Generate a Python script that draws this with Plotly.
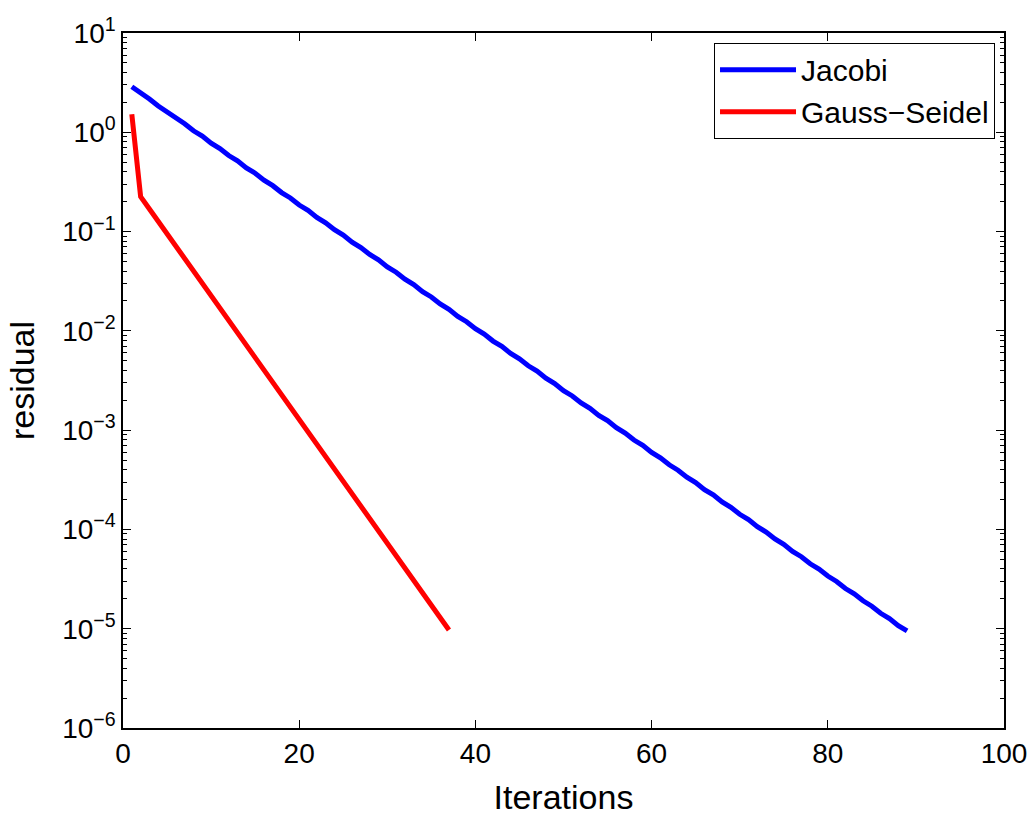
import plotly.graph_objects as go

jacobi_iter = list(range(1, 90))
jacobi_res = [
    2.88, 2.45, 2.16, 1.84, 1.62, 1.38, 1.22, 1.035, 0.914, 0.777,
    0.686, 0.583, 0.515, 0.438, 0.387, 0.329, 0.290, 0.247, 0.218, 0.185,
    0.1635, 0.139, 0.1227, 0.1043, 0.0921, 0.0783, 0.0691, 0.0588, 0.0519, 0.0441,
    0.03895, 0.0331, 0.02924, 0.02485, 0.02195, 0.01865, 0.01647, 0.0140, 0.01236, 0.01051,
    9.28e-3, 7.89e-3, 6.97e-3, 5.92e-3, 5.23e-3, 4.45e-3, 3.93e-3, 3.34e-3, 2.95e-3, 2.50e-3,
    2.21e-3, 1.88e-3, 1.66e-3, 1.41e-3, 1.246e-3, 1.059e-3, 9.35e-4, 7.95e-4, 7.02e-4, 5.97e-4,
    5.27e-4, 4.48e-4, 3.95e-4, 3.36e-4, 2.97e-4, 2.52e-4, 2.23e-4, 1.89e-4, 1.67e-4, 1.42e-4,
    1.255e-4, 1.067e-4, 9.42e-5, 8.01e-5, 7.07e-5, 6.01e-5, 5.31e-5, 4.51e-5, 3.98e-5, 3.39e-5,
    2.99e-5, 2.54e-5, 2.245e-5, 1.91e-5, 1.685e-5, 1.43e-5, 1.265e-5, 1.075e-5, 9.49e-6,
]

gs_iter = list(range(1, 38))
gs_res = [
    1.52, 0.225, 0.1688, 0.1267, 0.0951, 0.0714, 0.0536, 0.0402, 0.03015, 0.02263,
    0.01698, 0.01274, 9.56e-3, 7.18e-3, 5.38e-3, 4.04e-3, 3.03e-3, 2.28e-3, 1.71e-3, 1.28e-3,
    9.61e-4, 7.22e-4, 5.41e-4, 4.06e-4, 3.05e-4, 2.29e-4, 1.72e-4, 1.29e-4, 9.67e-5, 7.25e-5,
    5.44e-5, 4.09e-5, 3.07e-5, 2.30e-5, 1.73e-5, 1.30e-5, 9.72e-6,
]

x_ticks = [0, 20, 40, 60, 80, 100]
y_exps = [-6, -5, -4, -3, -2, -1, 0, 1]

FONT = "Arial, 'Liberation Sans', sans-serif"

fig = go.Figure()
fig.add_trace(go.Scatter(x=jacobi_iter, y=jacobi_res, mode="lines", name="Jacobi",
                         line=dict(color="#0000ff", width=5)))
fig.add_trace(go.Scatter(x=gs_iter, y=gs_res, mode="lines", name="Gauss\u2212Seidel",
                         line=dict(color="#ff0000", width=5)))

y_tickvals = [10.0 ** e for e in y_exps]
y_ticktext = ["10<sup>%s</sup>" % (str(e).replace("-", "\u2212")) for e in y_exps]
minor_vals = [m * 10.0 ** e for e in y_exps[:-1] for m in range(2, 10)]

fig.update_layout(
    width=1035, height=816,
    paper_bgcolor="white", plot_bgcolor="white",
    margin=dict(l=123, r=31, t=33, b=88, autoexpand=False),
    font=dict(family=FONT, size=28, color="black"),
    showlegend=True,
    legend=dict(x=0.9898, y=0.986, xanchor="right", yanchor="top",
                bgcolor="white", bordercolor="black", borderwidth=1,
                font=dict(size=30, family=FONT), tracegroupgap=0,
                itemwidth=76),
    xaxis=dict(range=[0, 100], tickvals=x_ticks, ticks="inside", ticklen=8,
               tickcolor="black", showline=True, linecolor="black", linewidth=1.5,
               mirror="ticks", showgrid=False, zeroline=False,
               title=dict(text="Iterations", font=dict(size=34), standoff=19),
               tickfont=dict(size=28)),
    yaxis=dict(type="log", range=[-6, 1], tickmode="array", tickvals=y_tickvals,
               ticktext=y_ticktext, ticks="inside", ticklen=8, tickcolor="black",
               showline=True, linecolor="black", linewidth=1.5, mirror="ticks",
               showgrid=False, zeroline=False,
               minor=dict(tickmode="array", tickvals=minor_vals, ticks="inside",
                          ticklen=4, tickcolor="black", showgrid=False),
               title=dict(text="residual", font=dict(size=34), standoff=17),
               tickfont=dict(size=28)),
)

# remove the browser's default 8px body margin so the figure fills the window exactly
fig.write_html("out.html", config={"displayModeBar": False},
               post_script="document.body.style.margin='0';document.body.style.overflow='hidden';")
